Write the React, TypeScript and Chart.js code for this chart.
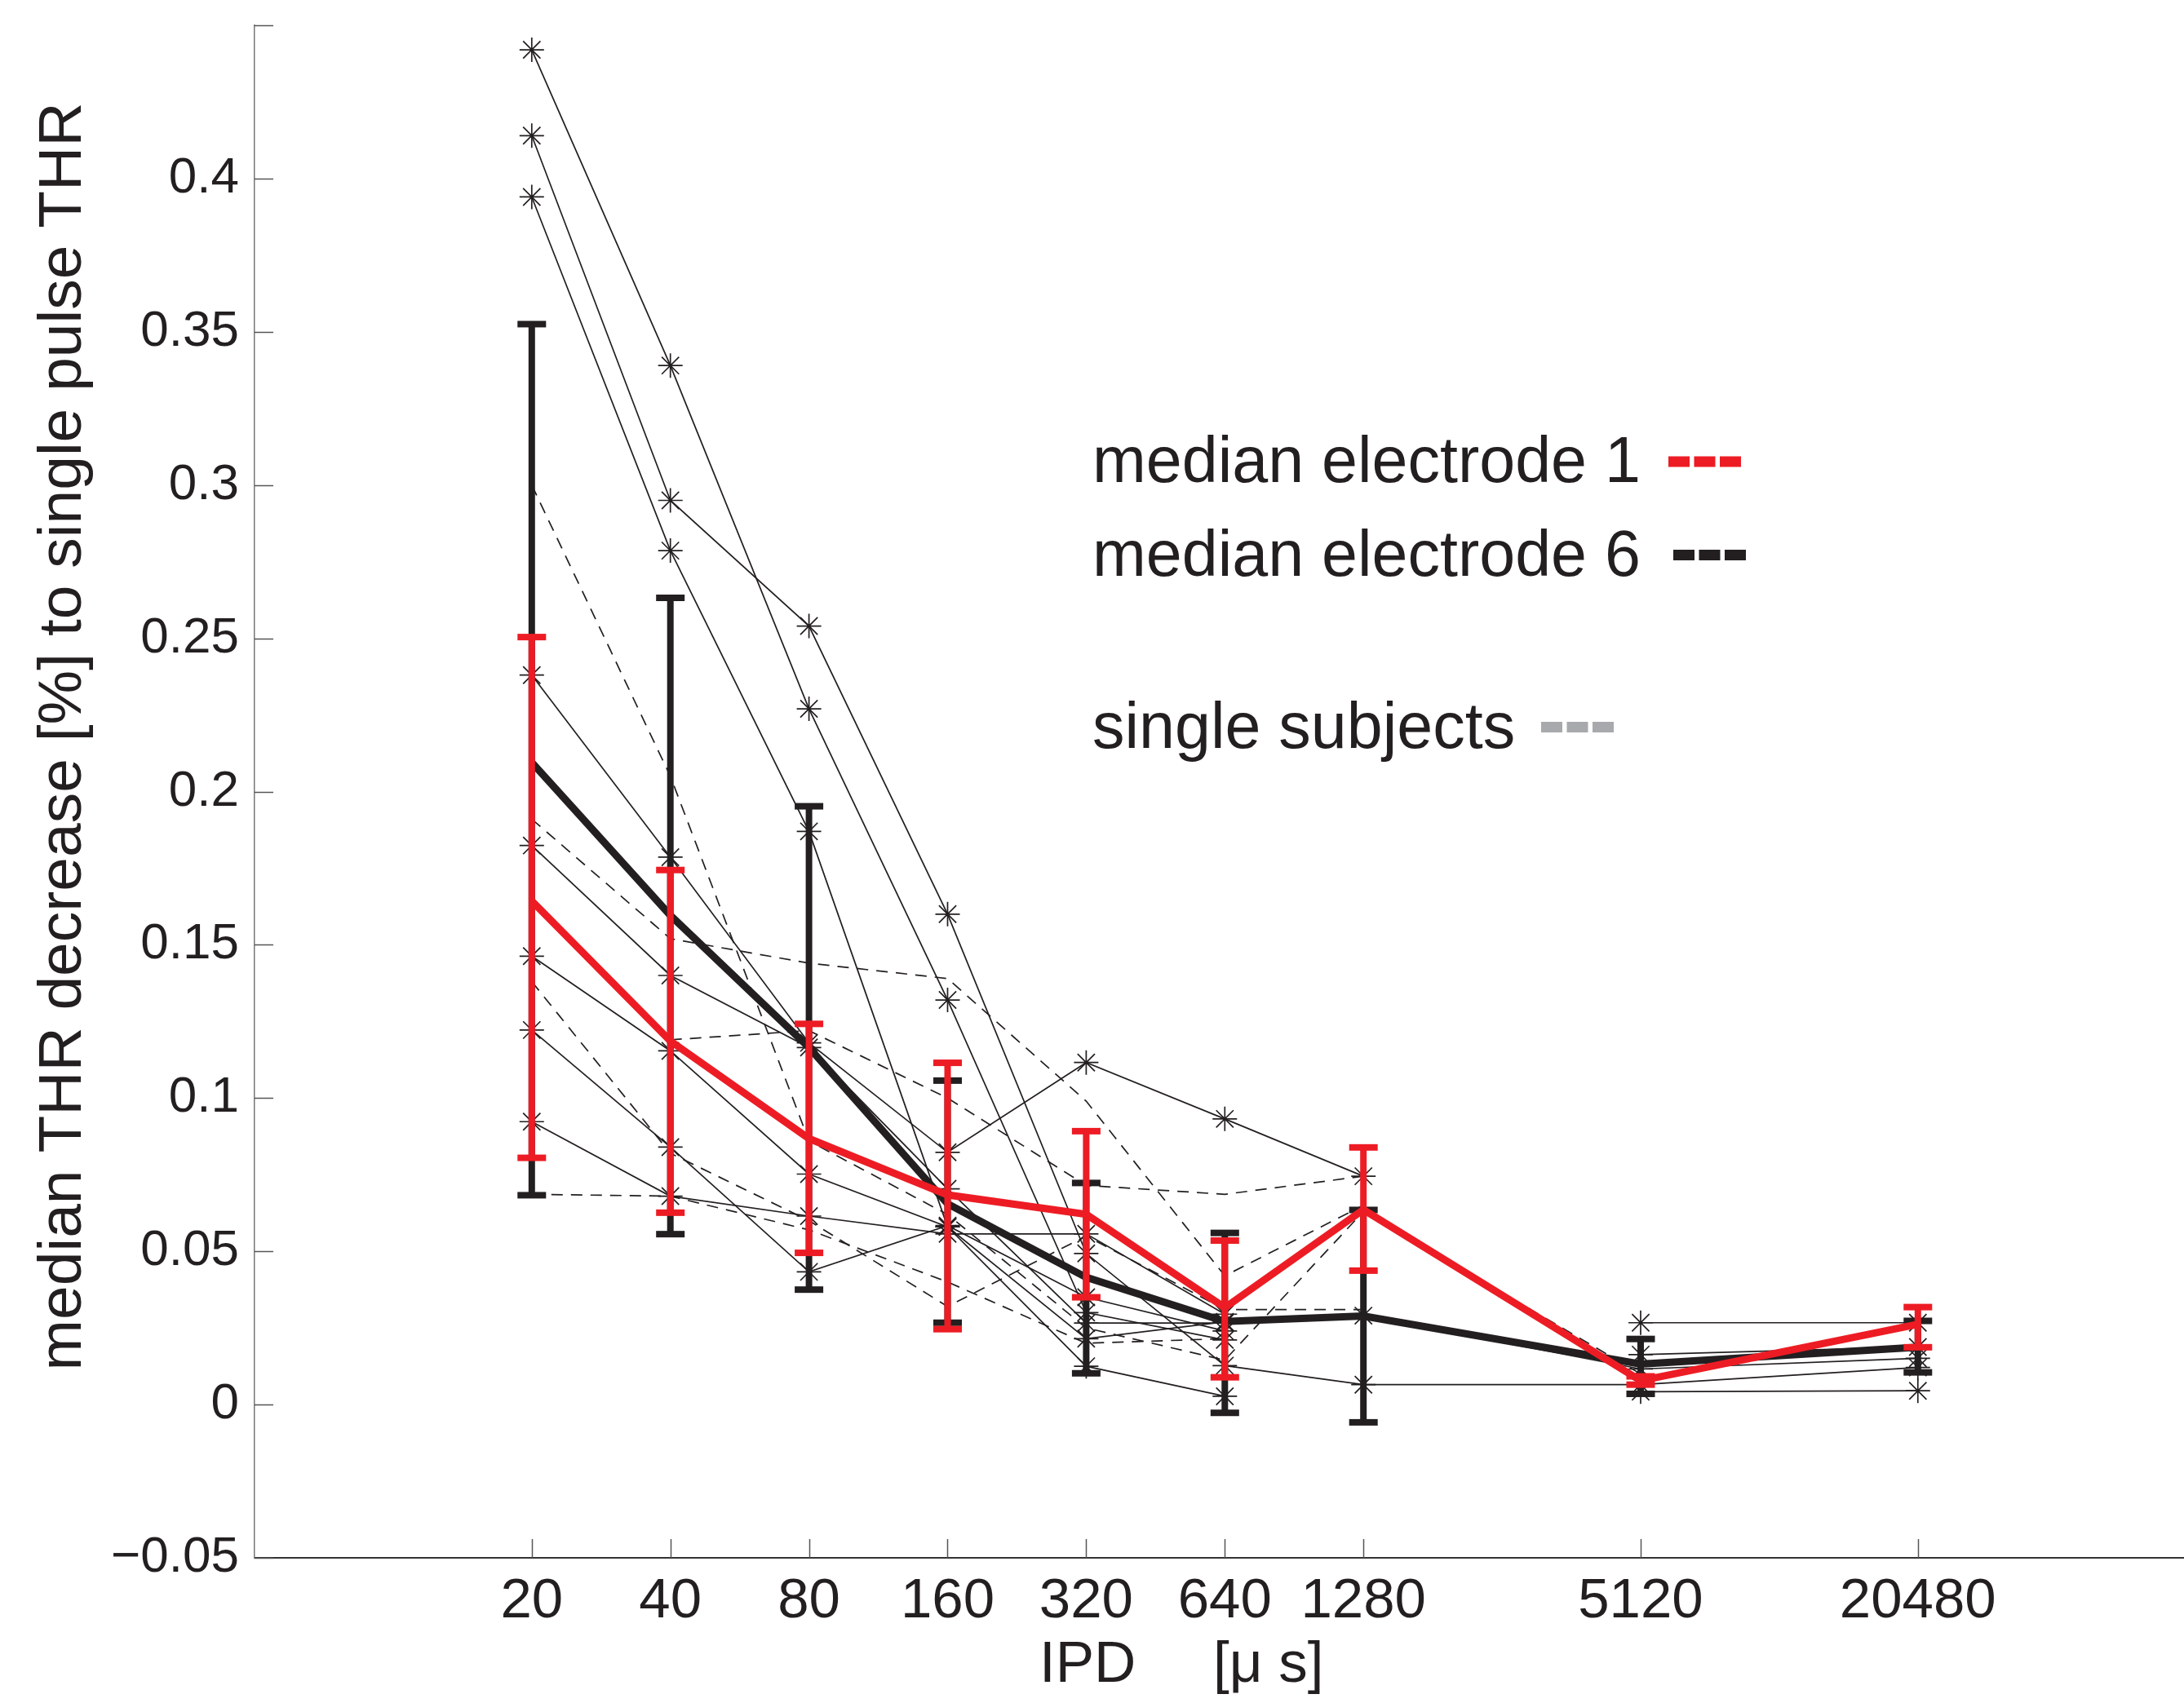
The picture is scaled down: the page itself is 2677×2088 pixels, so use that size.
import React, { useEffect, useRef } from 'react';
import { Chart, registerables } from 'chart.js';

Chart.register(...registerables);

const FONT = '"Liberation Sans", Arial, Helvetica, sans-serif';
const INK = '#231f20';
const RED = '#ed1c24';
const GREY = '#a7a9ac';

const W = 2677;
const H = 2088;

// x categories: inter-pulse duration (IPD) in microseconds
const ipdValues = [20, 40, 80, 160, 320, 640, 1280, 5120, 20480];
const ipdTickLabels = ['20', '40', '80', '160', '320', '640', '1280', '5120', '20480'];
const yTickValues = [-0.05, 0, 0.05, 0.1, 0.15, 0.2, 0.25, 0.3, 0.35, 0.4];
const yTickLabels = ['\u22120.05', '0', '0.05', '0.1', '0.15', '0.2', '0.25', '0.3', '0.35', '0.4'];

// medians with error ranges
const electrode1Median = [0.1643, 0.1186, 0.0868, 0.0684, 0.0621, 0.0316, 0.0636, 0.0078, 0.0262];
const electrode1Lower = [0.0805, 0.0626, 0.0495, 0.0246, 0.035, 0.0089, 0.0437, 0.0065, 0.0187];
const electrode1Upper = [0.2504, 0.1744, 0.1242, 0.1115, 0.0892, 0.0535, 0.0839, 0.0092, 0.0318];

const electrode6Median = [0.2095, 0.1596, 0.1165, 0.0655, 0.0415, 0.0271, 0.0289, 0.0132, 0.0187];
const electrode6Lower = [0.0683, 0.0556, 0.0375, 0.0267, 0.0102, -0.0027, -0.0058, 0.0035, 0.0105];
const electrode6Upper = [0.3525, 0.2632, 0.1952, 0.1057, 0.0723, 0.056, 0.0635, 0.0214, 0.0273];

// single subjects (solid lines with asterisks)
const subjectA = [0.442, 0.339, 0.227, 0.132, 0.03, 0.0211, null, null, null];
const subjectB = [0.414, 0.295, 0.254, 0.16, 0.0493, 0.0127, 0.0065, 0.0065, 0.0121];
const subjectC = [0.394, 0.2786, 0.187, 0.058, 0.0215, 0.027, 0.029, 0.0116, 0.0151];
const subjectD = [0.238, 0.1786, 0.118, 0.0823, 0.1116, 0.0932, 0.0745, null, null];
const subjectE = [0.1824, 0.14, 0.1165, 0.0704, 0.0266, 0.0266, null, null, null];
const subjectF = [0.1463, 0.1154, 0.0752, 0.058, 0.0125, 0.0027, null, null, null];
const subjectG = [0.1222, 0.084, 0.0433, 0.0584, 0.035, 0.024, null, null, null];
const subjectH = [0.0923, 0.068, 0.0615, 0.0557, 0.0557, 0.0295, null, null, null];
const subjectI = [null, null, null, null, null, null, null, 0.0267, 0.0267];
const subjectJ = [null, null, null, null, null, null, null, 0.0163, 0.0188];
const subjectK = [null, null, null, null, null, null, null, 0.0042, 0.0045];

// single subjects (dashed lines)
const subjectL = [0.3, 0.205, 0.086, 0.062, 0.025, 0.0145, 0.063, 0.01, null];
const subjectM = [0.191, 0.152, 0.144, 0.139, 0.099, 0.042, 0.065, null, null];
const subjectN = [0.138, 0.082, 0.06, 0.032, 0.055, 0.031, 0.031, null, null];
const subjectO = [0.0686, 0.068, 0.057, 0.04, 0.02, 0.0215, null, null, null];
const subjectP = [null, 0.119, 0.122, 0.1, 0.0715, 0.0686, 0.0745, null, null];

const solidSubjects = [subjectA, subjectB, subjectC, subjectD, subjectE, subjectF, subjectG, subjectH, subjectI, subjectJ, subjectK];
const dashedSubjects = [subjectL, subjectM, subjectN, subjectO, subjectP];

const PLOT_LEFT = 312;
const PLOT_TOP = 31;
const PLOT_BOTTOM = 1910;

const toPoints = (arr: (number | null)[]) => arr.map((y, i) => ({ x: ipdValues[i], y }));

const errorBarPlugin = {
  id: 'errorBars',
  afterDatasetDraw(chart: any, args: any) {
    const ds: any = chart.data.datasets[args.index];
    if (!ds.errLow) return;
    const { ctx } = chart;
    const xs = chart.scales.x;
    const ys = chart.scales.y;
    ctx.save();
    ctx.fillStyle = ds.errColor;
    ipdValues.forEach((v, i) => {
      const px = xs.getPixelForValue(v);
      const yl = ys.getPixelForValue(ds.errLow[i]);
      const yh = ys.getPixelForValue(ds.errHigh[i]);
      ctx.fillRect(px - 4, yh, 8, yl - yh);
      ctx.fillRect(px - 17.5, yh - 4, 35, 8);
      ctx.fillRect(px - 17.5, yl - 4, 35, 8);
    });
    ctx.restore();
  },
};

const decorPlugin = {
  id: 'decor',
  afterDraw(chart: any) {
    const { ctx } = chart;
    const xs = chart.scales.x;
    const ys = chart.scales.y;
    ctx.save();
    // inward tick marks
    ctx.strokeStyle = '#555';
    ctx.lineWidth = 1.5;
    ipdValues.forEach((v) => {
      const px = Math.round(xs.getPixelForValue(v)) + 0.5;
      ctx.beginPath();
      ctx.moveTo(px, PLOT_BOTTOM);
      ctx.lineTo(px, PLOT_BOTTOM - 23);
      ctx.stroke();
    });
    [...yTickValues, 0.45].forEach((v) => {
      const py = Math.round(ys.getPixelForValue(v)) + 0.5;
      ctx.beginPath();
      ctx.moveTo(PLOT_LEFT, py);
      ctx.lineTo(PLOT_LEFT + 23, py);
      ctx.stroke();
    });

    // legend
    ctx.fillStyle = INK;
    ctx.textAlign = 'left';
    ctx.textBaseline = 'alphabetic';
    ctx.font = `79px ${FONT}`;
    ctx.fillText('median electrode 1', 1339, 591);
    ctx.fillText('median electrode 6', 1339, 706);
    ctx.fillText('single subjects', 1339, 917);
    const dashes = (x0: number, cy: number, color: string) => {
      ctx.fillStyle = color;
      for (let k = 0; k < 3; k++) ctx.fillRect(x0 + k * 31.5, cy - 6.5, 26, 13);
    };
    dashes(2045, 566, RED);
    dashes(2051, 680.5, INK);
    dashes(1889, 891.5, GREY);

    // axis titles
    ctx.fillStyle = INK;
    ctx.font = `71px ${FONT}`;
    ctx.fillText('IPD', 1274, 2062);
    ctx.fillText('[\u03bc s]', 1487, 2062);

    ctx.save();
    ctx.translate(99, 903);
    ctx.rotate(-Math.PI / 2);
    ctx.textAlign = 'center';
    ctx.font = `75px ${FONT}`;
    ctx.fillText('median THR decrease [%] to single pulse THR', 0, 0);
    ctx.restore();

    ctx.restore();
  },
};

export default function App() {
  const ref = useRef<HTMLCanvasElement>(null);

  useEffect(() => {
    const canvas = ref.current;
    if (!canvas) return;

    const datasets: any[] = [];
    solidSubjects.forEach((arr) =>
      datasets.push({
        data: toPoints(arr),
        borderColor: INK,
        borderWidth: 1.7,
        pointStyle: 'star',
        pointRadius: 15,
        pointBorderColor: INK,
        pointBorderWidth: 1.7,
        pointBackgroundColor: 'rgba(0,0,0,0)',
        spanGaps: false,
        fill: false,
        tension: 0,
        order: 3,
      })
    );
    dashedSubjects.forEach((arr) =>
      datasets.push({
        data: toPoints(arr),
        borderColor: INK,
        borderWidth: 1.7,
        borderDash: [14, 10],
        pointRadius: 0,
        spanGaps: false,
        fill: false,
        tension: 0,
        order: 3,
      })
    );
    datasets.push({
      data: toPoints(electrode6Median),
      borderColor: INK,
      borderWidth: 9,
      pointRadius: 0,
      fill: false,
      tension: 0,
      order: 1,
      errLow: electrode6Lower,
      errHigh: electrode6Upper,
      errColor: INK,
    });
    datasets.push({
      data: toPoints(electrode1Median),
      borderColor: RED,
      borderWidth: 9,
      pointRadius: 0,
      fill: false,
      tension: 0,
      order: 0,
      errLow: electrode1Lower,
      errHigh: electrode1Upper,
      errColor: RED,
    });

    const chart = new Chart(canvas, {
      type: 'line',
      data: { datasets },
      options: {
        responsive: false,
        animation: false,
        devicePixelRatio: 1,
        layout: { autoPadding: false, padding: { top: PLOT_TOP, left: 0, right: 0, bottom: 0 } },
        plugins: {
          legend: { display: false },
          tooltip: { enabled: false },
        },
        scales: {
          x: {
            type: 'logarithmic',
            min: 5,
            max: 20 * Math.pow(2, 11.92),
            border: { display: true, color: '#333', width: 2 },
            grid: { display: false, drawTicks: false },
            afterBuildTicks: (s: any) => {
              s.ticks = ipdValues.map((v) => ({ value: v }));
            },
            afterFit: (s: any) => {
              s.height = H - PLOT_BOTTOM;
              s.paddingLeft = 0;
              s.paddingRight = 0;
            },
            ticks: {
              autoSkip: false,
              maxRotation: 0,
              padding: 13,
              color: INK,
              font: { family: FONT, size: 69 },
              callback: (value: any) => {
                const i = ipdValues.indexOf(Number(value));
                return i >= 0 ? ipdTickLabels[i] : '';
              },
            },
          },
          y: {
            type: 'linear',
            min: -0.05,
            max: 0.45,
            border: { display: true, color: '#777', width: 1.5 },
            grid: { display: false, drawTicks: false },
            afterBuildTicks: (s: any) => {
              s.ticks = yTickValues.map((v) => ({ value: v }));
            },
            afterFit: (s: any) => {
              s.width = PLOT_LEFT;
              s.paddingTop = 0;
              s.paddingBottom = 0;
            },
            ticks: {
              autoSkip: false,
              padding: 19,
              color: INK,
              font: { family: FONT, size: 62 },
              callback: (value: any) => {
                const i = yTickValues.findIndex((v) => Math.abs(v - Number(value)) < 1e-9);
                return i >= 0 ? yTickLabels[i] : '';
              },
            },
          },
        },
      } as any,
      plugins: [errorBarPlugin, decorPlugin],
    });

    return () => chart.destroy();
  }, []);

  return (
    <div style={{ position: 'absolute', left: 0, top: 0, width: W, height: H, background: '#fff', overflow: 'hidden' }}>
      <canvas ref={ref} width={W} height={H} style={{ display: 'block', width: W, height: H }} />
    </div>
  );
}
